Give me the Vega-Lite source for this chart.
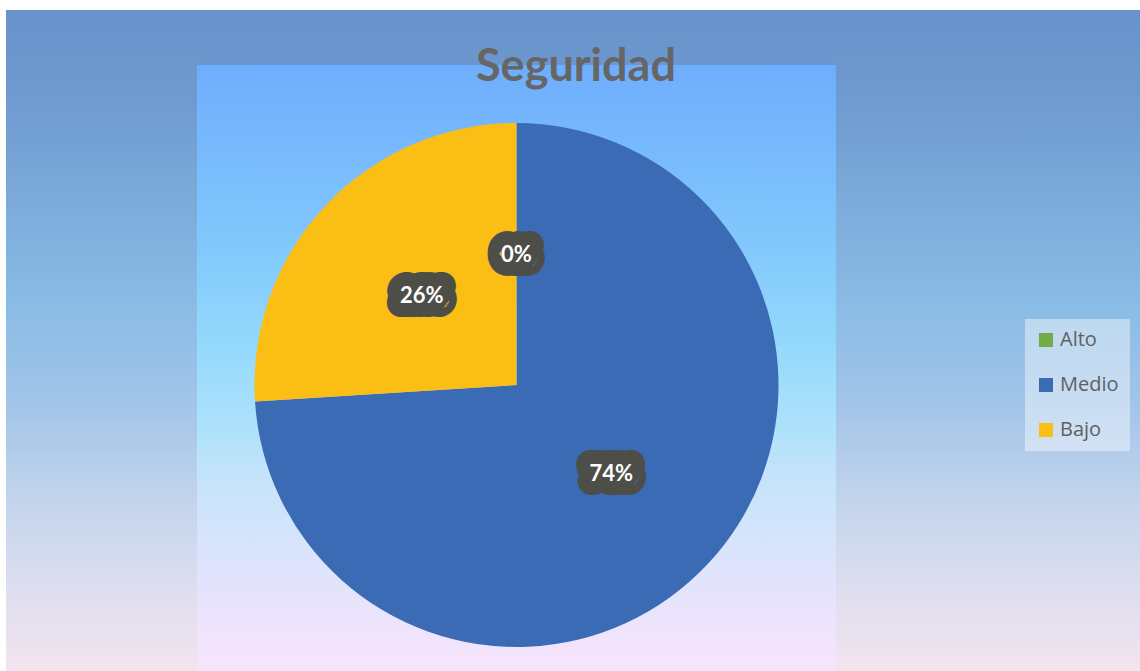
{
  "$schema": "https://vega.github.io/schema/vega-lite/v6.json",
  "padding": {"left": 6, "top": 10, "right": 0, "bottom": 0},
  "background": "white",
  "title": {"text": "Seguridad", "anchor": "start", "frame": "group", "dx": 470, "offset": -80, "fontSize": 45, "font": "Lato", "fontWeight": "bold", "color": "#666666"},
  "datasets": {
    "seguridad": [
      {"nivel": "Alto", "valor": 0, "orden": 1},
      {"nivel": "Medio", "valor": 0.74, "orden": 2},
      {"nivel": "Bajo", "valor": 0.26, "orden": 3}
    ]
  },
  "spacing": 0,
  "hconcat": [
    {
      "width": 191, "height": 661,
      "view": {"stroke": null, "fill": {"gradient": "linear", "x1": 0, "y1": 0, "x2": 0, "y2": 1, "stops": [
        {"offset": 0, "color": "#6893cb"}, {"offset": 0.14, "color": "#6f9bd0"}, {"offset": 0.45, "color": "#8abce5"},
        {"offset": 0.6, "color": "#a3c5e9"}, {"offset": 0.75, "color": "#c4d5ec"}, {"offset": 0.88, "color": "#dedeef"}, {"offset": 1, "color": "#f3e4ef"}]}},
      "data": {"values": [{"a": 1}]},
      "mark": {"type": "text", "text": ""}
    },
    {
      "spacing": 0,
      "vconcat": [
        {
          "width": 639, "height": 55,
          "view": {"stroke": null, "fill": {"gradient": "linear", "x1": 0, "y1": 0, "x2": 0, "y2": 1, "stops": [
            {"offset": 0, "color": "#6893cb"}, {"offset": 1, "color": "#6c97ce"}]}},
          "data": {"values": [{"a": 1}]},
          "mark": {"type": "text", "text": ""}
        },
        {
          "width": 639, "height": 606,
          "view": {"stroke": null, "fill": {"gradient": "linear", "x1": 0, "y1": 0, "x2": 0, "y2": 1, "stops": [
            {"offset": 0, "color": "#6eadfd"}, {"offset": 0.3, "color": "#82c8fc"}, {"offset": 0.45, "color": "#92d8fc"},
            {"offset": 0.6, "color": "#aee2fc"}, {"offset": 0.68, "color": "#c4e4fa"}, {"offset": 0.82, "color": "#dce4fc"}, {"offset": 1, "color": "#f8e4fc"}]}},
          "data": {"name": "seguridad"},
          "layer": [
            {
              "mark": {"type": "arc", "radius": 262, "yOffset": 17},
              "encoding": {
                "theta": {"field": "valor", "type": "quantitative", "stack": true},
                "order": {"field": "orden", "type": "quantitative"},
                "color": {"field": "nivel", "type": "nominal",
                  "scale": {"domain": ["Alto", "Medio", "Bajo"], "range": ["#70ad47", "#3b6bb5", "#fbbe14"]},
                  "legend": {"title": null}}
              }
            },
            {
              "mark": {"type": "text", "radius": 130, "yOffset": 17, "font": "Lato", "fontSize": 22, "fontWeight": "bold", "color": "#4e4e48", "stroke": "#4e4e48", "strokeWidth": 28, "strokeJoin": "round"},
              "encoding": {
                "theta": {"field": "valor", "type": "quantitative", "stack": true},
                "order": {"field": "orden", "type": "quantitative"},
                "text": {"field": "valor", "type": "quantitative", "format": ".0%"}
              }
            },
            {
              "mark": {"type": "text", "radius": 130, "yOffset": 17, "font": "Lato", "fontSize": 22, "fontWeight": "bold", "color": "white"},
              "encoding": {
                "theta": {"field": "valor", "type": "quantitative", "stack": true},
                "order": {"field": "orden", "type": "quantitative"},
                "text": {"field": "valor", "type": "quantitative", "format": ".0%"}
              }
            }
          ]
        }
      ]
    },
    {
      "width": 304, "height": 661,
      "view": {"stroke": null, "fill": {"gradient": "linear", "x1": 0, "y1": 0, "x2": 0, "y2": 1, "stops": [
        {"offset": 0, "color": "#6893cb"}, {"offset": 0.14, "color": "#6f9bd0"}, {"offset": 0.45, "color": "#8abce5"},
        {"offset": 0.6, "color": "#a3c5e9"}, {"offset": 0.75, "color": "#c4d5ec"}, {"offset": 0.88, "color": "#dedeef"}, {"offset": 1, "color": "#f3e4ef"}]}},
      "data": {"values": [{"a": 1}]},
      "mark": {"type": "text", "text": ""}
    }
  ],
  "config": {
    "view": {"stroke": null},
    "legend": {
      "orient": "none", "legendX": 1019, "legendY": 309,
      "fillColor": "rgba(255,255,255,0.42)", "padding": 11,
      "symbolType": "square", "symbolSize": 196, "symbolStrokeWidth": 0, "symbolOpacity": 1,
      "labelFont": "Open Sans", "labelFontSize": 20, "labelColor": "#606060", "labelOffset": 4,
      "rowPadding": 25
    }
  }
}
